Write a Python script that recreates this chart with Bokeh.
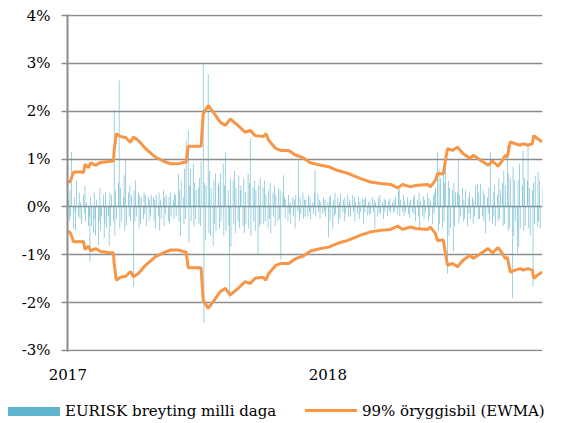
import pandas as pd
from bokeh.plotting import figure
from bokeh.layouts import column
from bokeh.models import (ColumnDataSource, Range1d, FixedTicker, PrintfTickFormatter,
                          DatetimeTickFormatter, Div)
from bokeh.embed import file_html
from bokeh.resources import INLINE

# ---------------- data: daily EURISK change (%) per month (business days) ----------------
chg_2017_01 = [0.15, -0.30, 0.35, -0.20, 1.15, -0.45, 0.20, -0.10, -0.50, 0.55, -0.20, 0.30, -0.25, 0.10, -0.35, 0.25, -0.15, 0.45, -0.30, 0.10, -0.40, -0.20]
chg_2017_02 = [-1.15, 0.20, -0.40, -0.55, 0.30, -0.25, -0.60, 0.15, -0.80, -0.30, 0.40, -0.50, -0.20, 0.25, -0.65, -0.35, 0.30, -0.45, -0.20, -0.80]
chg_2017_03 = [0.30, -0.40, 0.25, -0.30, 2.03, -0.60, 0.35, -0.25, 0.50, 2.64, -0.45, 0.40, -0.30, 0.20, 0.66, -0.50, 0.97, -0.38, 0.30, -0.20, 0.45, -0.30, 0.25]
chg_2017_04 = [-1.67, 0.35, -0.30, 0.55, -0.20, 0.30, -0.45, 0.25, -0.35, 0.20, -0.25, 0.30, -0.15, 0.25, -0.40, 0.20, -0.30, 0.15, -0.20, 0.25]
chg_2017_05 = [0.20, -0.30, 0.15, -0.45, 0.25, -0.20, 0.30, -0.50, 0.15, -0.25, 0.35, -0.40, 0.20, -0.15, 0.25, -0.30, 0.20, -0.35, 0.30, -0.20, 0.15, -0.25, 0.30]
chg_2017_06 = [0.25, -0.20, 0.70, -0.30, 0.35, -0.60, 0.55, 0.20, -0.35, 0.80, -0.25, 1.39, 1.60, -0.75, 0.45, 0.80, -0.30, 0.90, -0.40, 0.50, -0.25, 0.35]
chg_2017_07 = [0.40, -0.35, 0.60, -0.40, 0.95, 3.00, -2.43, 0.50, -0.70, 0.45, 2.78, -0.55, 0.75, -0.60, 0.40, -0.80, 0.55, -0.35, 0.70, -0.50, 0.45]
chg_2017_08 = [0.50, -0.45, 0.70, -0.30, 0.90, -0.60, 0.45, 1.15, -0.50, 0.35, -0.40, -1.90, 0.60, -0.83, 0.55, -0.35, 0.75, -0.55, 0.40, -0.30, 0.65, -0.45, 0.35]
chg_2017_09 = [0.45, -0.40, 0.60, -0.55, 0.30, -0.35, 0.70, -0.45, 0.50, 1.42, -0.60, 0.40, -0.30, 0.55, -0.50, 0.35, -1.00, 0.45, -0.40, 0.60, -0.35]
chg_2017_10 = [0.40, -0.35, 0.55, -0.30, 0.25, -0.45, 0.35, -0.25, 0.50, -0.55, 0.30, -0.20, 0.45, -0.40, 0.25, -0.30, 0.40, -0.25, 0.35, -1.10, 0.30, 0.66]
chg_2017_11 = [0.20, -0.25, 0.15, -0.30, 0.25, -0.15, 0.10, -0.35, 0.20, -0.20, 0.15, -0.45, 0.25, -0.10, 0.97, -0.30, 0.20, -0.15, 0.30, -0.25, 0.15, -0.20]
chg_2017_12 = [0.15, -0.20, 0.25, -0.10, 0.20, -0.25, 0.10, -0.15, 0.30, 0.76, -0.20, 0.28, -0.10, 0.15, -0.25, 0.10, -0.15, 0.20, -0.10, 0.15, -0.20]
chg_2018_01 = [0.10, -0.63, 0.20, -0.30, 0.25, -0.45, 0.15, -0.20, 0.30, -0.15, 0.20, -0.35, 0.10, -0.25, 0.28, -0.10, 0.15, -0.30, 0.20, -0.15, 0.25, -0.20, 0.10]
chg_2018_02 = [0.15, -0.20, 0.25, -0.10, 0.20, -0.30, 0.10, -0.15, 0.22, -0.25, 0.12, -0.10, 0.18, -0.35, 0.15, -0.12, 0.20, -0.18, 0.10, -0.15]
chg_2018_03 = [0.12, -0.15, 0.20, -0.10, 0.15, -0.45, 0.10, -0.20, 0.18, -0.12, 0.25, -0.15, 0.10, -0.25, 0.17, -0.10, 0.15, -0.20, 0.12, -0.08, 0.18, -0.12]
chg_2018_04 = [0.10, -0.12, 0.15, -0.10, 0.20, -0.15, 0.35, 0.42, -0.20, 0.15, -0.10, 0.25, -0.18, 0.12, -0.10, 0.20, -0.15, 0.10, -0.22, 0.15, -0.10]
chg_2018_05 = [0.20, -0.15, 0.25, -0.30, 0.15, -0.20, 0.30, -0.45, 0.12, -0.18, 0.22, -0.25, 0.15, -0.12, 0.28, -0.30, 0.18, -0.20, 0.12, -0.35, 0.25, -0.15, 0.30]
chg_2018_06 = [0.40, 1.15, -0.50, 0.80, -0.35, 0.60, -0.45, 0.70, -0.30, 0.50, 0.90, -1.39, 0.55, -0.60, 0.40, -0.45, 0.35, -0.94, 0.50, -0.40, 0.30]
chg_2018_07 = [0.30, 0.97, -0.35, 0.25, -0.20, 0.40, -0.30, 0.15, -0.25, 0.35, -0.40, 0.20, -0.15, 0.30, -0.25, 0.20, -0.35, 0.15, -0.20, 0.45, 0.49, -0.25]
chg_2018_08 = [0.30, -0.25, 0.49, -0.20, 0.35, -0.30, 0.25, -0.55, 0.20, -0.15, 0.40, -0.30, 1.15, -0.35, 0.30, -0.20, 0.45, -0.40, 0.25, -0.30, 0.60, -0.25, 0.35]
chg_2018_09 = [0.50, -0.40, 0.76, -0.35, 0.45, 1.28, -0.50, 0.70, -0.45, 0.60, -1.91, 0.83, -0.60, 0.55, -0.30, -0.97, 0.56, -0.83, 0.90, -0.45]
chg_2018_10 = [0.45, 1.18, -0.50, 0.60, -0.40, 0.55, 1.32, -0.45, 0.40, -0.60, 0.35, -1.67, 0.50, -0.35, 0.65, -0.40, 0.73, -0.30, 0.55, -0.45, 0.40]

months = [("2017-01-01", chg_2017_01), ("2017-02-01", chg_2017_02), ("2017-03-01", chg_2017_03),
          ("2017-04-01", chg_2017_04), ("2017-05-01", chg_2017_05), ("2017-06-01", chg_2017_06),
          ("2017-07-01", chg_2017_07), ("2017-08-01", chg_2017_08), ("2017-09-01", chg_2017_09),
          ("2017-10-01", chg_2017_10), ("2017-11-01", chg_2017_11), ("2017-12-01", chg_2017_12),
          ("2018-01-01", chg_2018_01), ("2018-02-01", chg_2018_02), ("2018-03-01", chg_2018_03),
          ("2018-04-01", chg_2018_04), ("2018-05-01", chg_2018_05), ("2018-06-01", chg_2018_06),
          ("2018-07-01", chg_2018_07), ("2018-08-01", chg_2018_08), ("2018-09-01", chg_2018_09),
          ("2018-10-01", chg_2018_10)]

# 99% confidence band (EWMA), symmetric around zero
band_dates = ["2017-01-02", "2017-01-05", "2017-01-09", "2017-01-19", "2017-01-23", "2017-01-25", "2017-01-30",
              "2017-02-02", "2017-02-09", "2017-02-16", "2017-02-27", "2017-03-06", "2017-03-07", "2017-03-10",
              "2017-03-16", "2017-03-23", "2017-03-30", "2017-04-03", "2017-04-10", "2017-04-20", "2017-05-04",
              "2017-05-15", "2017-05-25", "2017-06-05", "2017-06-12", "2017-06-16", "2017-06-19", "2017-07-07",
              "2017-07-10", "2017-07-17", "2017-07-24", "2017-08-03", "2017-08-10", "2017-08-17", "2017-08-28",
              "2017-09-07", "2017-09-14", "2017-09-21", "2017-10-02", "2017-10-06", "2017-10-10", "2017-10-20",
              "2017-10-27", "2017-11-07", "2017-11-17", "2017-11-27", "2017-12-08", "2017-12-22", "2018-01-02",
              "2018-01-15", "2018-01-29", "2018-02-16", "2018-03-02", "2018-03-16", "2018-03-30", "2018-04-09",
              "2018-04-16", "2018-04-27", "2018-05-04", "2018-05-21", "2018-05-25", "2018-06-01", "2018-06-04",
              "2018-06-12", "2018-06-15", "2018-06-18", "2018-06-25", "2018-07-02", "2018-07-10", "2018-07-20",
              "2018-07-24", "2018-08-03", "2018-08-14", "2018-08-20", "2018-08-28", "2018-09-03", "2018-09-07",
              "2018-09-10", "2018-09-14", "2018-09-21", "2018-09-28", "2018-10-02", "2018-10-09", "2018-10-15",
              "2018-10-17", "2018-10-22", "2018-10-29"]
band_vals = [0.50, 0.56, 0.73, 0.73, 0.72, 0.89, 0.82,
             0.92, 0.87, 0.93, 0.95, 0.96, 1.18, 1.53,
             1.47, 1.45, 1.35, 1.46, 1.39, 1.22, 1.04,
             0.96, 0.90, 0.90, 0.93, 0.94, 1.27, 1.27,
             1.95, 2.12, 1.98, 1.77, 1.70, 1.84, 1.70,
             1.56, 1.60, 1.49, 1.47, 1.53, 1.39, 1.22,
             1.18, 1.18, 1.08, 1.03, 0.92, 0.87, 0.84,
             0.76, 0.70, 0.59, 0.52, 0.49, 0.47, 0.40,
             0.47, 0.42, 0.45, 0.47, 0.42, 0.56, 0.70,
             0.69, 0.97, 1.22, 1.18, 1.25, 1.11, 1.01,
             1.08, 0.98, 0.87, 0.96, 0.85, 0.97, 1.08,
             1.05, 1.36, 1.32, 1.29, 1.32, 1.29, 1.32,
             1.49, 1.43, 1.36]

y_ticks = [-3, -2, -1, 0, 1, 2, 3, 4]
x_ticks = ["2017-01-01", "2018-01-01"]

label_bars = "EURISK breyting milli daga"
label_band = "99% öryggisbil (EWMA)"

# ---------------- build ----------------
bar_x, bar_y = [], []
for start, vals in months:
    d = pd.bdate_range(start=start, periods=len(vals))
    bar_x.extend(list(d))
    bar_y.extend(vals)
bars = ColumnDataSource(dict(x=bar_x, y=bar_y))

bd = pd.to_datetime(band_dates)
band = ColumnDataSource(dict(x=bd, up=band_vals, lo=[-v for v in band_vals]))

FONT = "DejaVu Serif"
GRID = "#8C8C8C"
ORANGE = "#F79646"
BLUE = "#4BACC6"
W = 553

x_start = pd.Timestamp("2016-12-31 12:00")
x_end = x_start + pd.Timedelta(days=666.8)

p = figure(width=W, height=392, x_axis_type="datetime",
           x_range=Range1d(x_start, x_end), y_range=Range1d(-3.021, 4.021),
           output_backend="svg", toolbar_location=None,
           min_border_left=67, min_border_right=11, min_border_top=14, min_border_bottom=41)
p.outline_line_color = None
p.background_fill_color = "white"
p.border_fill_color = "white"

r_bars = p.vbar(x="x", top="y", bottom=0, width=86400000 * 0.9, source=bars,
                fill_color=BLUE, fill_alpha=0.85, line_color=None)
r_up = p.line("x", "up", source=band, line_color=ORANGE, line_width=3)
r_lo = p.line("x", "lo", source=band, line_color=ORANGE, line_width=3)

# y axis
p.yaxis.ticker = FixedTicker(ticks=y_ticks)
p.yaxis.formatter = PrintfTickFormatter(format="%d%%")
p.yaxis.axis_line_color = GRID
p.yaxis.axis_line_width = 2
p.yaxis.major_tick_line_color = GRID
p.yaxis.major_tick_line_width = 1.5
p.yaxis.major_tick_out = 6
p.yaxis.major_tick_in = 0
p.yaxis.minor_tick_line_color = None
p.yaxis.major_label_standoff = 11
p.yaxis.major_label_text_font = FONT
p.yaxis.major_label_text_font_size = "15px"
p.yaxis.major_label_text_color = "#000000"

p.ygrid.ticker = FixedTicker(ticks=y_ticks)
p.ygrid.grid_line_color = GRID
p.ygrid.grid_line_width = 1.5
p.xgrid.grid_line_color = None

# x axis
p.xaxis.ticker = FixedTicker(ticks=[pd.Timestamp(t).value / 1e6 for t in x_ticks])
p.xaxis.formatter = DatetimeTickFormatter(years="%Y", months="%Y", days="%Y", hours="%Y",
                                          hourmin="%Y", minutes="%Y", minsec="%Y", seconds="%Y",
                                          milliseconds="%Y", microseconds="%Y")
p.xaxis.axis_line_color = None
p.xaxis.major_tick_line_color = None
p.xaxis.minor_tick_line_color = None
p.xaxis.major_tick_out = 0
p.xaxis.major_tick_in = 0
p.xaxis.major_label_standoff = 17
p.xaxis.major_label_text_font = FONT
p.xaxis.major_label_text_font_size = "15px"
p.xaxis.major_label_text_color = "#000000"

# ---------------- legend strip below the chart ----------------
txt = "position:absolute;top:10px;line-height:18px;white-space:nowrap;"
legend_html = f"""
<div style="position:relative;width:{W}px;height:31px;font-family:'{FONT}';font-size:15px;color:#000;">
  <span style="position:absolute;left:8px;top:15px;width:52px;height:9px;background:{BLUE};opacity:0.9;"></span>
  <span style="{txt}left:65px;">{label_bars}</span>
  <span style="position:absolute;left:305px;top:17px;width:52px;height:3px;background:{ORANGE};"></span>
  <span style="{txt}left:362px;">{label_band}</span>
</div>
"""
legend_div = Div(text=legend_html, width=W, height=31, margin=(0, 0, 0, 0))

layout = column(p, legend_div, spacing=0)
open("out.html", "w").write(file_html(layout, INLINE))
